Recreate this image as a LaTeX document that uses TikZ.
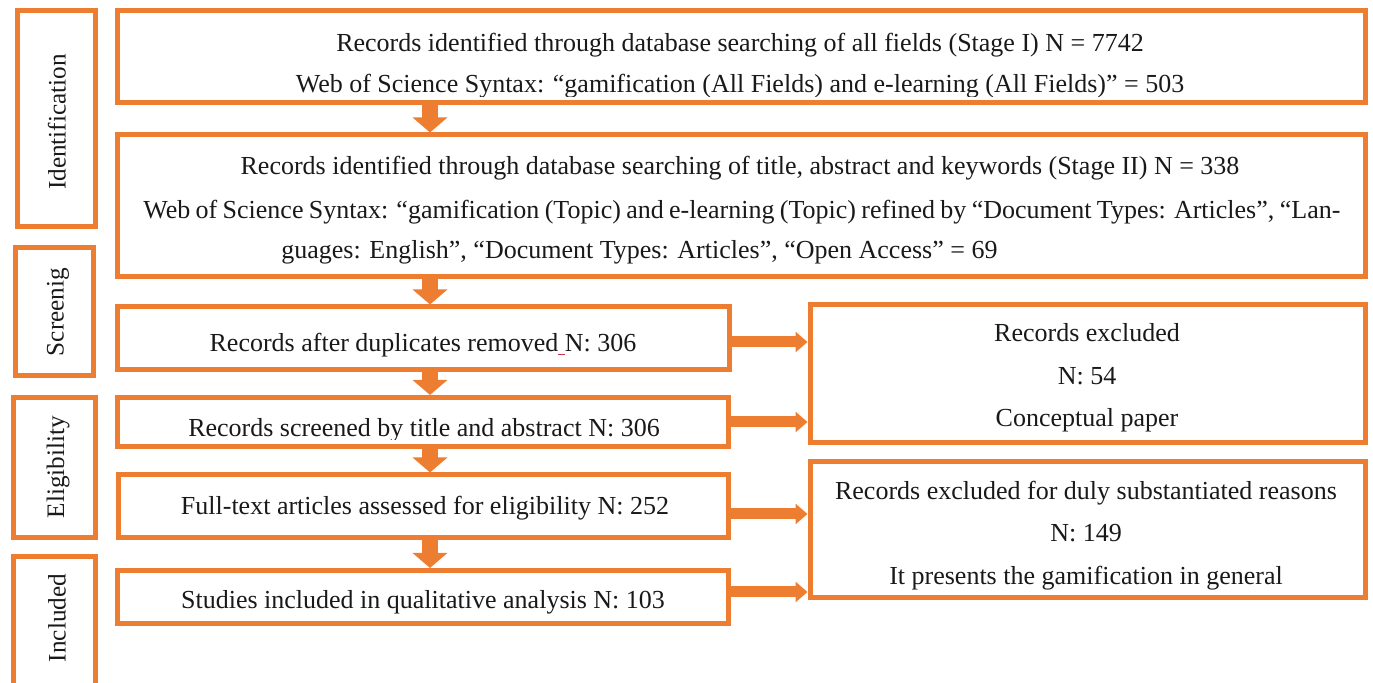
\documentclass[tikz,border=0pt]{standalone}
\usepackage{fontspec}
\setmainfont{Liberation Serif}
\usetikzlibrary{arrows.meta}
\definecolor{org}{RGB}{237,125,49}
\definecolor{txt}{RGB}{25,25,25}
\definecolor{spell}{RGB}{200,50,70}
\tikzset{
 box/.style={draw=org, line width=2.5pt, inner sep=0pt},
 lbl/.style={font=\fontsize{13}{15}\selectfont, text=txt, anchor=base, inner sep=0pt},
 lblw/.style={lbl, anchor=base west},
 side/.style={font=\fontsize{12.6}{15}\selectfont, text=txt, rotate=90, inner sep=0pt},
 downarr/.style={draw=org, line width=8pt, -{Triangle[width=17pt,length=7.5pt]}},
 rightarr/.style={draw=org, line width=5.5pt, -{Triangle[width=10pt,length=6pt]}},
}
\newcommand{\pbox}[5]{\node[box, minimum width={0.5pt*(#4-#2)-2.5pt}, minimum height={0.5pt*(#5-#3)-2.5pt}] (#1) at ({(#2+#4)/2},{(#3+#5)/2}) {};}
\begin{document}
\begin{tikzpicture}[x=0.5pt,y=-0.5pt]
\useasboundingbox (0,0) rectangle (1373,683);
\clip (0,0) rectangle (1373,683);
% stage boxes
\pbox{sid}{14.5}{8}{97.5}{229}
\pbox{ssc}{12.5}{245.5}{96}{378}
\pbox{sel}{11}{395.5}{97.5}{540.5}
\pbox{sin}{11}{554.5}{97.5}{720}
\node[side] (tid) at (57,122) {Identification};
\node[side] (tsc) at (58,312) {Screenig};
\node[side] (tel) at (58,467) {Eligibility};
\node[side] (tin) at (57,618) {Included};
% main boxes
\pbox{b1}{114.5}{8}{1367.5}{105}
\pbox{b2}{114.5}{132.5}{1367.5}{279.5}
\pbox{b3}{114.5}{304.5}{732}{372.5}
\pbox{b4}{114.5}{395}{731}{449.5}
\pbox{b5}{116}{472.5}{731}{540.5}
\pbox{b6}{114.5}{568}{731}{626}
\pbox{bA}{807.5}{302.5}{1367.5}{445.5}
\pbox{bB}{807.5}{459}{1367.5}{600.5}
% texts
\node[lbl] (t11) at (740,51.5) {Records identified through database searching of all fields (Stage I) N = 7742};
\begin{scope}
\clip (120,60) rectangle (1360,96.5);
\node[lbl] (t12) at (740,93) {Web of Science Syntax: “gamification (All Fields) and e-learning (All Fields)” = 503};
\end{scope}
\node[lbl] (t21) at (740,175) {Records identified through database searching of title, abstract and keywords (Stage II) N = 338};
\node[lblw] (t22) at (143,219) {\makebox[598.5pt][s]{Web of Science Syntax: “gamification (Topic) and e-learning (Topic) refined by “Document Types: Articles”, “Lan-}};
\node[lblw] (t23) at (281,259) {guages: English”, “Document Types: Articles”, “Open Access” = 69};
\node[lbl] (t3) at (423,352) {Records after duplicates removed\textcolor{spell}{\rule[-1.5pt]{0.25em}{0.5pt}}N: 306};
\begin{scope}
\clip (120,400) rectangle (725,440);
\node[lbl] (t4) at (424,437) {Records screened by title and abstract N: 306};
\end{scope}
\node[lbl] (t5) at (425,515) {Full-text articles assessed for eligibility N: 252};
\node[lbl] (t6) at (423,609) {Studies included in qualitative analysis N: 103};
\node[lbl] (tA1) at (1087,342) {Records excluded};
\node[lbl] (tA2) at (1087,385) {N: 54};
\node[lbl] (tA3) at (1087,427) {Conceptual paper};
\node[lbl] (tB1) at (1086,500) {Records excluded for duly substantiated reasons};
\node[lbl] (tB2) at (1086,542) {N: 149};
\node[lbl] (tB3) at (1086,585) {It presents the gamification in general};
% arrows
\coordinate (ax) at (430,0);
\draw[downarr] (b1.south -| ax) -- (b2.north -| ax);
\draw[downarr] (b2.south -| ax) -- (b3.north -| ax);
\draw[downarr] (b3.south -| ax) -- (b4.north -| ax);
\draw[downarr] (b4.south -| ax) -- (b5.north -| ax);
\draw[downarr] (b5.south -| ax) -- (b6.north -| ax);
\coordinate (y3) at (0,342);
\coordinate (y4) at (0,422);
\coordinate (y5) at (0,514);
\coordinate (y6) at (0,592);
\draw[rightarr] (b3.east |- y3) -- (bA.west |- y3);
\draw[rightarr] (b4.east |- y4) -- (bA.west |- y4);
\draw[rightarr] (b5.east |- y5) -- (bB.west |- y5);
\draw[rightarr] (b6.east |- y6) -- (bB.west |- y6);
\end{tikzpicture}
\end{document}
